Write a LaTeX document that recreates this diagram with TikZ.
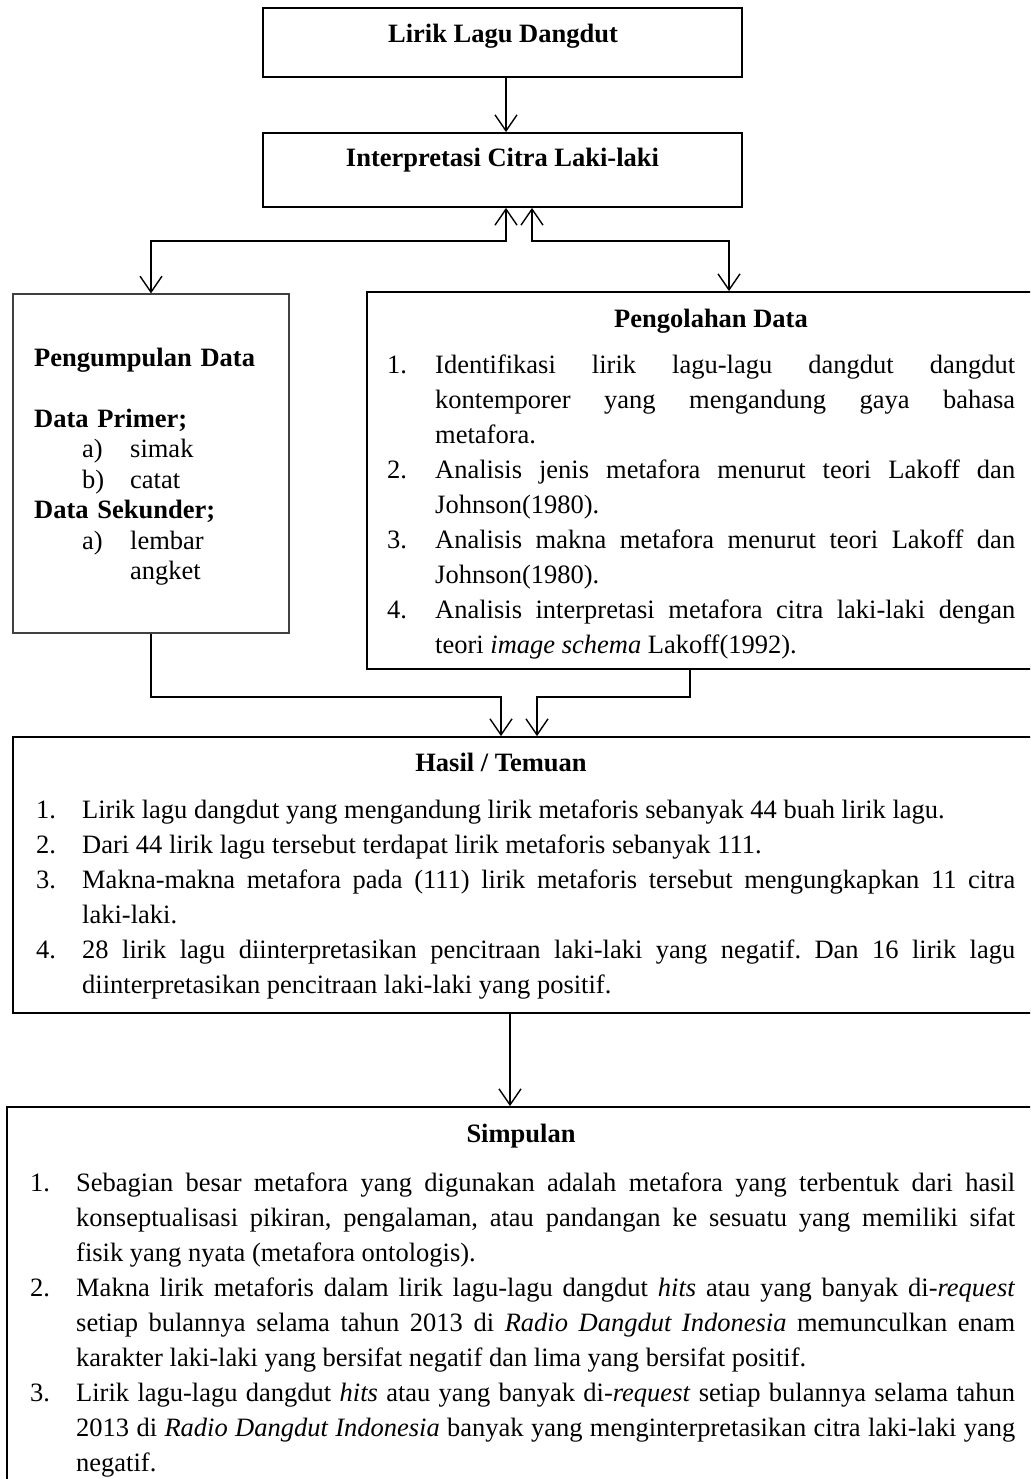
\documentclass[tikz,border=0pt]{standalone}
\usepackage{fontspec}
\setmainfont{Liberation Serif}
\usetikzlibrary{arrows.meta}
\newlength{\lind}
\newcommand{\myitem}[2]{\hangindent=\lind\hangafter=1\noindent\makebox[\lind][l]{#1}#2\par}
\newcommand{\parsetup}{\frenchspacing\tolerance=9999\emergencystretch=20pt\hyphenpenalty=10000\exhyphenpenalty=10000\relax}
\tikzset{
  box/.style={draw, line width=1.8pt, inner sep=0pt, rectangle},
  thinbox/.style={draw=black!75, line width=1.2pt, inner sep=0pt, rectangle},
  arr/.style={line width=1.4pt, -{Straight Barb[length=16pt,width=22pt]}},
  darr/.style={line width=1.4pt, {Straight Barb[length=16pt,width=22pt]}-{Straight Barb[length=16pt,width=22pt]}},
  ttl/.style={font=\fontsize{26.5}{32}\selectfont\bfseries, anchor=base, inner sep=0pt},
  para/.style={anchor=base west, inner sep=0pt, align=justify, font=\fontsize{26.5}{35}\selectfont},
}
\begin{document}
\begin{tikzpicture}[x=1pt, y=-1pt]
\useasboundingbox (0,0) rectangle (1030,1479);
\clip (0,0) rectangle (1030,1479);
% boxes
\node[box, minimum width=479pt, minimum height=69pt] (lirik) at (502.5,42.5) {};
\node[ttl] (tl) at (503,43) {Lirik Lagu Dangdut};
\node[box, minimum width=479pt, minimum height=74pt] (interp) at (502.5,170) {};
\node[ttl] (ti) at (502.5,167) {Interpretasi Citra Laki-laki};
\node[thinbox, minimum width=276pt, minimum height=339pt] (peng) at (151,463.5) {};
\node[box, minimum width=678pt, minimum height=377pt] (olah) at (706,480.5) {};
\node[box, minimum width=1032pt, minimum height=276pt] (hasil) at (529,875) {};
\node[box, minimum width=1038pt, minimum height=393pt] (simp) at (526,1303.5) {};
% left box text
\node[anchor=base west, inner sep=0pt, text width=250pt, align=left, font=\fontsize{26.5}{30.5}\selectfont] (tpeng) at (34,366) {%
\textbf{Pengumpulan Data}\par\mbox{}\par
\textbf{Data Primer;}\par
\hspace*{48pt}\makebox[48pt][l]{a)}simak\par
\hspace*{48pt}\makebox[48pt][l]{b)}catat\par
\textbf{Data Sekunder;}\par
\hspace*{48pt}\makebox[48pt][l]{a)}lembar\par
\hspace*{96pt}angket};
% Pengolahan
\node[ttl] (tolah) at (711,327) {Pengolahan Data};
\node[para, text width=628pt] (lolah) at (387,373) {\parsetup\setlength{\lind}{48pt}%
\myitem{1.}{Identifikasi lirik lagu-lagu dangdut dangdut \linebreak kontemporer yang mengandung gaya bahasa \linebreak metafora.}%
\myitem{2.}{Analisis jenis metafora menurut teori Lakoff dan \linebreak Johnson(1980).}%
\myitem{3.}{Analisis makna metafora menurut teori Lakoff dan \linebreak Johnson(1980).}%
\myitem{4.}{Analisis interpretasi metafora citra laki-laki dengan \linebreak teori \textit{image schema} Lakoff(1992).}};
% Hasil
\node[ttl] (thasil) at (501,771) {Hasil / Temuan};
\node[para, text width=979pt] (lhasil) at (36,818) {\parsetup\setlength{\lind}{46pt}%
\myitem{1.}{Lirik lagu dangdut yang mengandung lirik metaforis sebanyak 44 buah lirik lagu.}%
\myitem{2.}{Dari 44 lirik lagu tersebut terdapat lirik metaforis sebanyak 111.}%
\myitem{3.}{Makna-makna metafora pada (111) lirik metaforis tersebut mengungkapkan 11 citra \linebreak laki-laki.}%
\myitem{4.}{28 lirik lagu diinterpretasikan pencitraan laki-laki yang negatif. Dan 16 lirik lagu \linebreak diinterpretasikan pencitraan laki-laki yang positif.}};
% Simpulan
\node[ttl] (tsimp) at (521,1142) {Simpulan};
\node[para, text width=985pt] (lsimp) at (30,1191) {\parsetup\setlength{\lind}{46pt}%
\myitem{1.}{Sebagian besar metafora yang digunakan adalah metafora yang terbentuk dari hasil \linebreak konseptualisasi pikiran, pengalaman, atau pandangan ke sesuatu yang memiliki sifat \linebreak fisik yang nyata (metafora ontologis).}%
\myitem{2.}{Makna lirik metaforis dalam lirik lagu-lagu dangdut \textit{hits} atau yang banyak di-\textit{request} \linebreak setiap bulannya selama tahun 2013 di \textit{Radio Dangdut Indonesia} memunculkan enam \linebreak karakter laki-laki yang bersifat negatif dan lima yang bersifat positif.}%
\myitem{3.}{Lirik lagu-lagu dangdut \textit{hits} atau yang banyak di-\textit{request} setiap bulannya selama tahun \linebreak 2013 di \textit{Radio Dangdut Indonesia} banyak yang menginterpretasikan citra laki-laki yang \linebreak negatif.}};
% connectors
\coordinate (jl) at (506,241);
\coordinate (jr) at (532,241);
\coordinate (jrr) at (729,241);
\draw[arr] (lirik.south -| jl) -- (interp.north -| jl);
\draw[darr] (peng.north) |- (jl) -- (jl |- interp.south);
\draw[darr] (olah.north -| jrr) -- (jrr) -- (jr) -- (jr |- interp.south);
\coordinate (bl) at (501,697);
\coordinate (br) at (537,697);
\coordinate (bo) at (690,697);
\draw[arr] (peng.south) |- (bl) -- (bl |- hasil.north);
\draw[arr] (olah.south -| bo) -- (bo) -- (br) -- (br |- hasil.north);
\coordinate (hs) at (510,1060);
\draw[arr] (hasil.south -| hs) -- (simp.north -| hs);
\end{tikzpicture}
\end{document}
